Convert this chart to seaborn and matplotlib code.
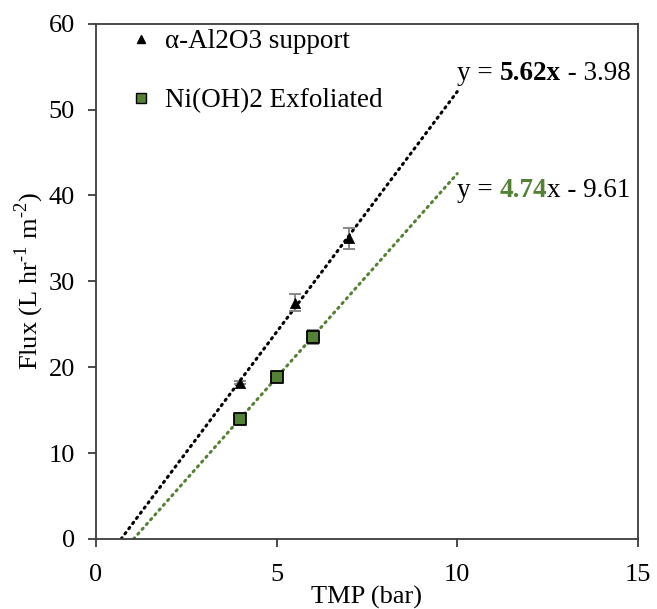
import numpy as np
import pandas as pd
import matplotlib
matplotlib.use("Agg")
import matplotlib.pyplot as plt
import seaborn as sns
from matplotlib.lines import Line2D

# ---- data ----
al_x = [4.0, 5.5, 7.0]
al_y = [18.2, 27.5, 35.0]
al_err = [0.2, 1.0, 1.2]
ni_x = [4.0, 5.0, 6.0]
ni_y = [14.0, 18.9, 23.5]
ni_err = [0.2, 0.2, 0.8]
series_names = ["α-Al2O3 support", "Ni(OH)2 Exfoliated"]
eq1 = ("y = ", "5.62x", " - 3.98")
eq2 = ("y = ", "4.74", "x - 9.61")
x_ticks = [0, 5, 10, 15]
y_ticks = [0, 10, 20, 30, 40, 50, 60]

GREEN = "#548235"
AXC = "#3c3c3c"
FS = 19
FS2 = 19.5

sns.set_theme(style="white")
plt.rcParams["font.family"] = ["Liberation Serif", "DejaVu Serif"]
plt.rcParams["mathtext.fontset"] = "custom"
plt.rcParams["mathtext.rm"] = "Liberation Serif"
plt.rcParams["mathtext.bf"] = "Liberation Serif:bold"
plt.rcParams["text.color"] = "black"
plt.rcParams["axes.labelcolor"] = "black"
plt.rcParams["xtick.color"] = "black"
plt.rcParams["ytick.color"] = "black"

fig = plt.figure(figsize=(6.57, 6.09), dpi=100)
ax = fig.add_axes([0.146, 0.115, 0.825, 0.846])

df = pd.DataFrame({
    "x": al_x + ni_x,
    "y": al_y + ni_y,
    "err": al_err + ni_err,
    "s": [series_names[0]] * 3 + [series_names[1]] * 3,
})

# trendlines (linear fits), extended from y=0 to x=10
for xs, ys, col in [(al_x, al_y, "black"), (ni_x, ni_y, GREEN)]:
    m, b = np.polyfit(xs, ys, 1)
    x0 = -b / m
    lx = np.linspace(x0, 10, 50)
    sns.lineplot(x=lx, y=m * lx + b, ax=ax, color=col, lw=2.2,
                 linestyle=(0, (0.5, 1.6)), dash_capstyle="round", zorder=2)

# error bars
for xs, ys, es in [(al_x, al_y, al_err), (ni_x, ni_y, ni_err)]:
    ax.errorbar(xs, ys, yerr=es, fmt="none", ecolor="#808080", elinewidth=1.3,
                capsize=4, capthick=1.3, zorder=3)

sub = df[df.s == series_names[0]]
sns.scatterplot(data=sub, x="x", y="y", ax=ax, marker="^", s=55, color="black",
                edgecolor="black", linewidth=0.5, zorder=4, legend=False)
sub = df[df.s == series_names[1]]
sns.scatterplot(data=sub, x="x", y="y", ax=ax, marker="s", s=70, color=GREEN,
                edgecolor="black", linewidth=1.3, zorder=4, legend=False)

ax.set_xlim(0, 15)
ax.set_ylim(0, 60)
ax.set_xticks(x_ticks)
ax.set_yticks(y_ticks)
ax.tick_params(axis="both", direction="out", length=6, width=1.3, color=AXC,
               labelsize=FS, left=True, bottom=True)
ax.tick_params(axis="x", pad=12)
ax.tick_params(axis="y", pad=9)
for sp in ax.spines.values():
    sp.set_color(AXC)
    sp.set_linewidth(1.3)

ax.set_xlabel("TMP (bar)", fontsize=FS, labelpad=0)
ax.set_ylabel(r"Flux (L hr$^{\text{-1}}$ m$^{\text{-2}}$)", fontsize=FS, labelpad=2)

handles = [
    Line2D([], [], marker="^", color="black", ls="none", markersize=6),
    Line2D([], [], marker="s", color=GREEN, markeredgecolor="black", ls="none",
           markersize=7, markeredgewidth=1.0),
]
ax.legend(handles, series_names, loc="upper left", frameon=False, fontsize=FS2,
          labelspacing=1.25, handlelength=1.0, handletextpad=0.4, borderaxespad=0,
          bbox_to_anchor=(0.038, 1.01))

# equation labels, pieces placed side by side
fig.canvas.draw()
renderer = fig.canvas.get_renderer()

def place(pieces, x, y):
    trans = ax.transData
    px, py = trans.transform((x, y))
    for txt, w, c in pieces:
        t = fig.text(px / fig.dpi / fig.get_figwidth(), py / fig.dpi / fig.get_figheight(),
                     txt, fontsize=FS2, fontweight=w, color=c, va="center", ha="left")
        bb = t.get_window_extent(renderer)
        px = bb.x1

place([(eq1[0], "normal", "black"), (eq1[1], "bold", "black"), (eq1[2], "normal", "black")], 10.0, 54.2)
place([(eq2[0], "normal", "black"), (eq2[1], "bold", GREEN), (eq2[2], "normal", "black")], 10.0, 40.6)

fig.savefig("out.png", dpi=100)
